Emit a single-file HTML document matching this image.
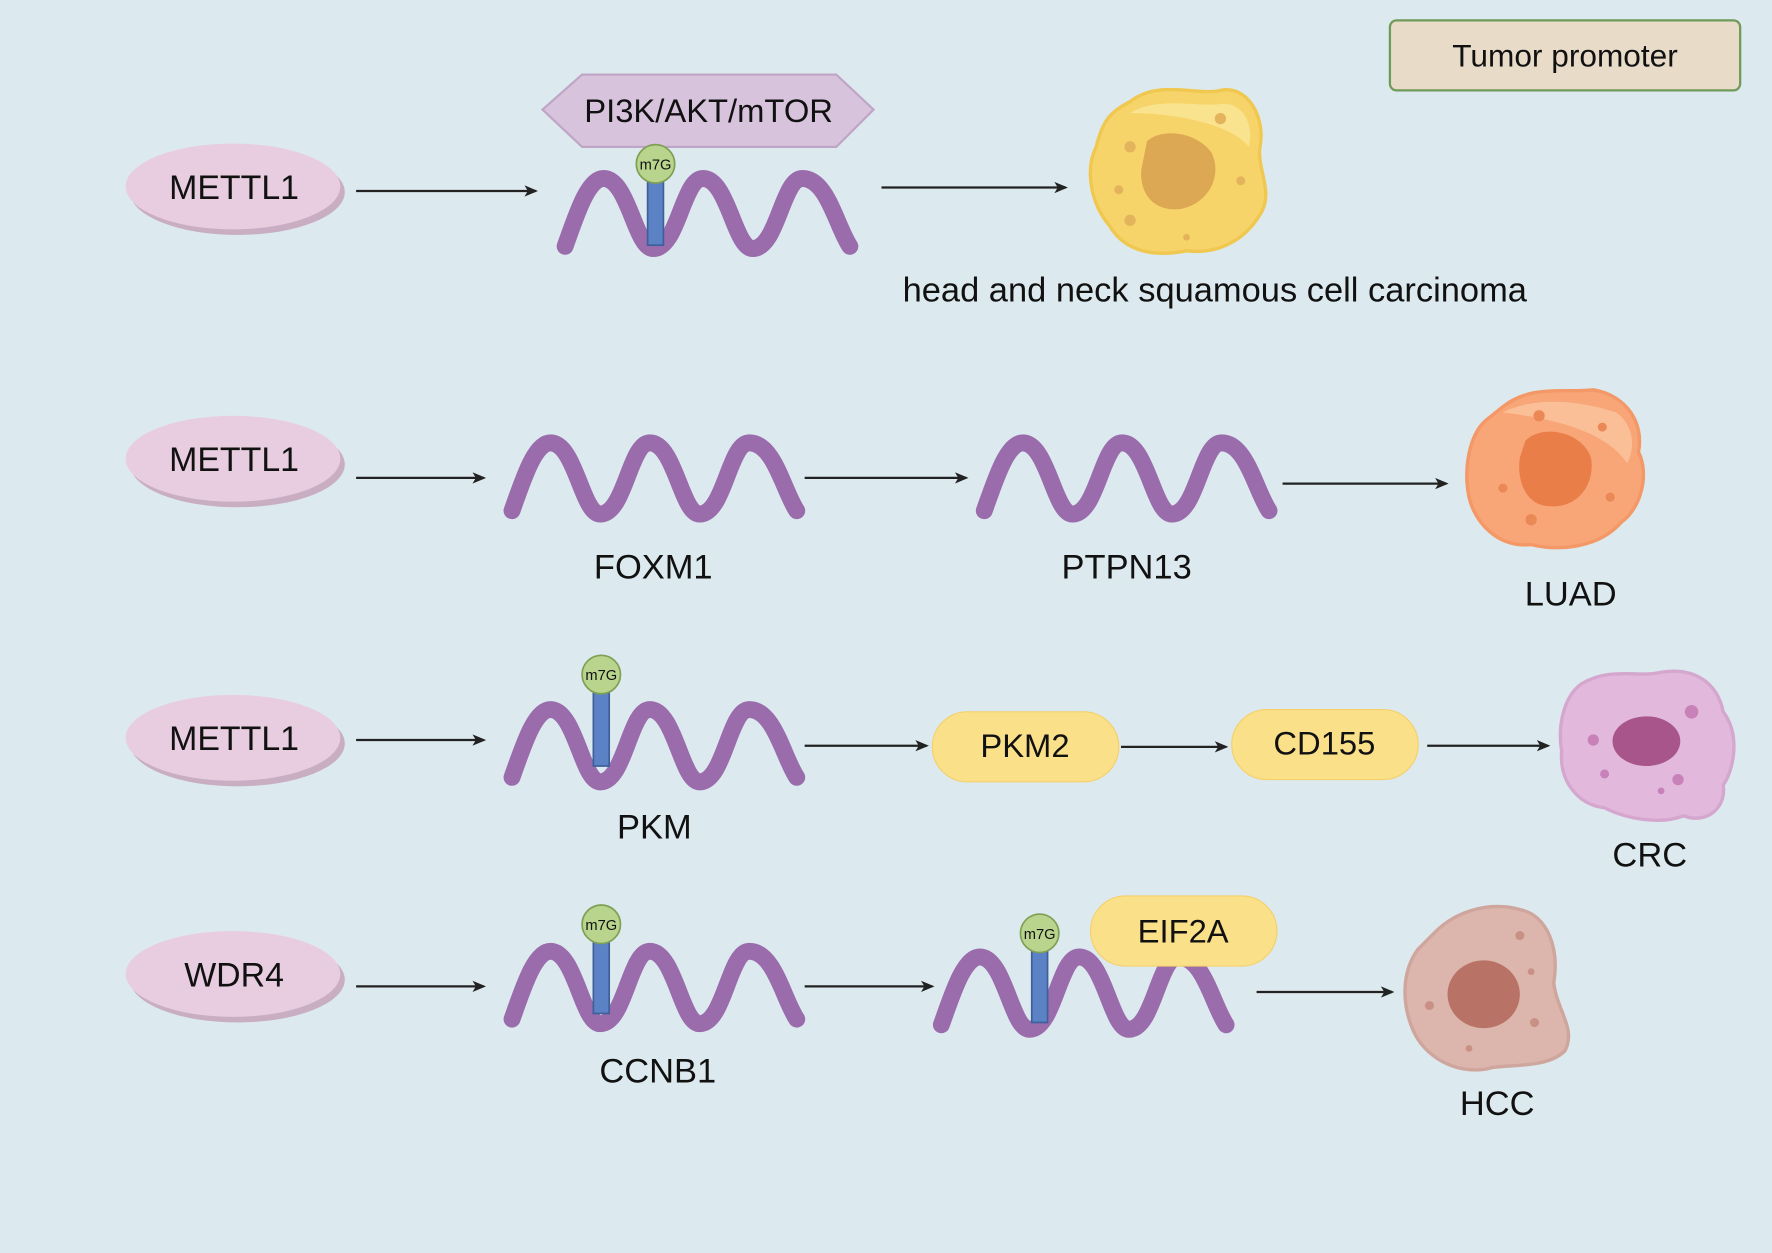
<!DOCTYPE html>
<html><head><meta charset="utf-8"><style>
html,body{margin:0;padding:0;background:#dceaef;}
svg{display:block;}
text{font-family:"Liberation Sans",Arial,sans-serif;fill:#111;}
</style></head><body>
<svg width="1772" height="1253" viewBox="0 0 1568 1109" xmlns="http://www.w3.org/2000/svg">
<defs>
<marker id="ah" markerWidth="12" markerHeight="10" refX="10" refY="5" orient="auto" markerUnits="userSpaceOnUse">
<path d="M0,0 L12,5 L0,10 L3,5 Z" fill="#222"/></marker>
</defs>
<rect width="1568" height="1109" fill="#dceaef"/>

<rect x="1230" y="18" width="310" height="62" rx="6" fill="#e8dcc8" stroke="#6f9a5a" stroke-width="2"/>
<text x="1385" y="59" font-size="28" text-anchor="middle">Tumor promoter</text>

<g>
<ellipse cx="210" cy="170" rx="95" ry="38" fill="#c9aec3"/>
<ellipse cx="206" cy="165" rx="95" ry="38" fill="#e8cde0"/>
<text x="207" y="176" font-size="30" text-anchor="middle">METTL1</text>
<ellipse cx="210" cy="411" rx="95" ry="38" fill="#c9aec3"/>
<ellipse cx="206" cy="406" rx="95" ry="38" fill="#e8cde0"/>
<text x="207" y="417" font-size="30" text-anchor="middle">METTL1</text>
<ellipse cx="210" cy="658" rx="95" ry="38" fill="#c9aec3"/>
<ellipse cx="206" cy="653" rx="95" ry="38" fill="#e8cde0"/>
<text x="207" y="664" font-size="30" text-anchor="middle">METTL1</text>
<ellipse cx="210" cy="867" rx="95" ry="38" fill="#c9aec3"/>
<ellipse cx="206" cy="862" rx="95" ry="38" fill="#e8cde0"/>
<text x="207" y="873" font-size="30" text-anchor="middle">WDR4</text>
</g>

<polygon points="480,97 515,66 740,66 773,97 740,130 515,130" fill="#d8c3dd" stroke="#c0a6c6" stroke-width="2"/>
<text x="627" y="108" font-size="29" text-anchor="middle">PI3K/AKT/mTOR</text>

<g fill="none" stroke="#9a6cac" stroke-width="15" stroke-linecap="round">
<path d="M500,218 C510,190 520,158 534,158 C556,158 562,220 578,220 C600,220 604,158 622,158 C644,158 650,220 666,220 C688,220 692,158 710,158 C732,158 740,200 752,218"/>
<path d="M453,452 C463,424 473,392 487,392 C509,392 515,455 531,455 C553,455 557,392 575,392 C597,392 603,455 619,455 C641,455 645,392 663,392 C685,392 693,434 705,452"/>
<path d="M871,452 C881,424 891,392 905,392 C927,392 933,455 949,455 C971,455 975,392 993,392 C1015,392 1021,455 1037,455 C1059,455 1063,392 1081,392 C1103,392 1111,434 1123,452"/>
<path d="M453,688 C463,660 473,628 487,628 C509,628 515,692 531,692 C553,692 557,628 575,628 C597,628 603,692 619,692 C641,692 645,628 663,628 C685,628 693,670 705,688"/>
<path d="M453,902 C463,874 473,842 487,842 C509,842 515,906 531,906 C553,906 557,842 575,842 C597,842 603,906 619,906 C641,906 645,842 663,842 C685,842 693,884 705,902"/>
<path d="M833,907 C843,879 853,847 867,847 C889,847 895,911 911,911 C933,911 937,847 955,847 C977,847 983,911 999,911 C1021,911 1025,847 1043,847 C1065,847 1073,889 1085,907"/>
</g>

<g stroke="#3f5f9a" stroke-width="1.5">
<rect x="573" y="160" width="14" height="57" fill="#5b82c4"/>
<circle cx="580" cy="145" r="17" fill="#b9d48c" stroke="#7f9f55"/>
<rect x="525" y="612" width="14" height="66" fill="#5b82c4"/>
<circle cx="532" cy="597" r="17" fill="#b9d48c" stroke="#7f9f55"/>
<rect x="525" y="833" width="14" height="64" fill="#5b82c4"/>
<circle cx="532" cy="818" r="17" fill="#b9d48c" stroke="#7f9f55"/>
<rect x="913" y="841" width="14" height="64" fill="#5b82c4"/>
<circle cx="920" cy="826" r="17" fill="#b9d48c" stroke="#7f9f55"/>
</g>
<g font-size="13" text-anchor="middle">
<text x="580" y="150">m7G</text><text x="532" y="602">m7G</text><text x="532" y="823">m7G</text><text x="920" y="831">m7G</text>
</g>

<rect x="825" y="630" width="165" height="62" rx="31" fill="#fbe08a" stroke="#f4d06a"/>
<text x="907" y="670" font-size="29" text-anchor="middle">PKM2</text>
<rect x="1090" y="628" width="165" height="62" rx="31" fill="#fbe08a" stroke="#f4d06a"/>
<text x="1172" y="668" font-size="29" text-anchor="middle">CD155</text>
<rect x="965" y="793" width="165" height="62" rx="31" fill="#fbe08a" stroke="#f4d06a"/>
<text x="1047" y="834" font-size="29" text-anchor="middle">EIF2A</text>

<g stroke="#222" stroke-width="2" marker-end="url(#ah)">
<line x1="315" y1="169" x2="474" y2="169"/>
<line x1="780" y1="166" x2="943" y2="166"/>
<line x1="315" y1="423" x2="428" y2="423"/>
<line x1="712" y1="423" x2="855" y2="423"/>
<line x1="1135" y1="428" x2="1280" y2="428"/>
<line x1="315" y1="655" x2="428" y2="655"/>
<line x1="712" y1="660" x2="820" y2="660"/>
<line x1="992" y1="661" x2="1085" y2="661"/>
<line x1="1263" y1="660" x2="1370" y2="660"/>
<line x1="315" y1="873" x2="428" y2="873"/>
<line x1="712" y1="873" x2="825" y2="873"/>
<line x1="1112" y1="878" x2="1232" y2="878"/>
</g>

<path d="M1000,90 C1025,70 1060,85 1080,80 C1105,75 1120,105 1115,130 C1112,150 1128,170 1115,190 C1100,215 1075,225 1050,222 C1020,228 995,222 982,200 C965,180 960,150 970,130 C975,110 980,100 1000,90Z" fill="#f6d46a" stroke="#f0c850" stroke-width="3"/>
<path d="M1000,100 C1025,85 1060,95 1080,92 C1100,90 1110,110 1105,130 C1090,110 1040,100 1000,100Z" fill="#fae38e"/>
<path d="M1015,125 C1030,112 1060,118 1072,135 C1082,155 1070,180 1045,185 C1020,188 1008,170 1010,150 Z" fill="#dca854"/>
<g fill="#e4b45c"><circle cx="1000" cy="130" r="5"/><circle cx="990" cy="168" r="4"/><circle cx="1000" cy="195" r="5"/><circle cx="1080" cy="105" r="5"/><circle cx="1098" cy="160" r="4"/><circle cx="1050" cy="210" r="3"/></g>
<path d="M1330,360 C1355,340 1385,348 1410,345 C1440,350 1455,375 1450,400 C1460,420 1452,450 1435,462 C1415,485 1380,488 1355,482 C1325,485 1305,462 1300,440 C1295,415 1300,385 1315,372 Z" fill="#f8a578" stroke="#f39866" stroke-width="3"/>
<path d="M1330,365 C1360,350 1400,355 1430,365 C1445,375 1448,395 1440,410 C1420,380 1370,370 1330,365Z" fill="#fbbf97"/>
<path d="M1350,390 C1365,375 1400,382 1408,405 C1412,430 1395,450 1372,448 C1350,448 1342,425 1345,405Z" fill="#ea7e48"/>
<g fill="#ea8856"><circle cx="1362" cy="368" r="5"/><circle cx="1418" cy="378" r="4"/><circle cx="1330" cy="432" r="4"/><circle cx="1355" cy="460" r="5"/><circle cx="1425" cy="440" r="4"/></g>
<path d="M1400,605 C1425,590 1450,600 1470,595 C1500,590 1520,605 1525,630 C1540,650 1535,680 1525,695 C1528,715 1510,730 1490,722 C1470,730 1440,725 1420,715 C1395,712 1380,690 1382,665 C1378,640 1385,615 1400,605Z" fill="#e2b9dc" stroke="#d5a7cf" stroke-width="3"/>
<ellipse cx="1457" cy="656" rx="30" ry="22" fill="#a8558c"/>
<g fill="#c982b9"><circle cx="1497" cy="630" r="6"/><circle cx="1410" cy="655" r="5"/><circle cx="1485" cy="690" r="5"/><circle cx="1420" cy="685" r="4"/><circle cx="1470" cy="700" r="3"/></g>
<path d="M1270,825 C1290,805 1320,798 1345,805 C1370,810 1380,840 1375,870 C1378,895 1395,910 1385,930 C1370,945 1340,942 1320,945 C1295,952 1265,940 1252,915 C1240,890 1240,860 1255,840Z" fill="#dcb5ad" stroke="#cfa69d" stroke-width="3"/>
<ellipse cx="1313" cy="880" rx="32" ry="30" fill="#b87366"/>
<g fill="#c99186"><circle cx="1345" cy="828" r="4"/><circle cx="1355" cy="860" r="3"/><circle cx="1265" cy="890" r="4"/><circle cx="1358" cy="905" r="4"/><circle cx="1300" cy="928" r="3"/></g>

<g font-size="30.5" text-anchor="middle">
<text x="1075" y="267">head and neck squamous cell carcinoma</text>
<text x="578" y="512">FOXM1</text>
<text x="997" y="512">PTPN13</text>
<text x="1390" y="536">LUAD</text>
<text x="579" y="742">PKM</text>
<text x="1460" y="767">CRC</text>
<text x="582" y="958">CCNB1</text>
<text x="1325" y="987">HCC</text>
</g>
</svg>
</body></html>
